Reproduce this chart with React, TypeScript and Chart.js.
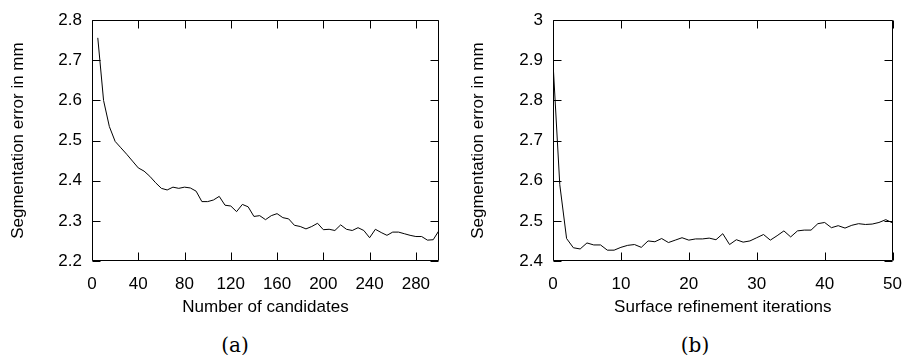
import React, { useEffect, useRef } from "react";
import { Chart, registerables } from "chart.js";

Chart.register(...registerables);

// ---------- data: panel (a) ----------
const candidates = [
  5, 10, 15, 20, 25, 30, 35, 40, 45, 50, 55, 60, 65, 70, 75, 80, 85, 90, 95, 100,
  105, 110, 115, 120, 125, 130, 135, 140, 145, 150, 155, 160, 165, 170, 175, 180, 185, 190, 195, 200,
  205, 210, 215, 220, 225, 230, 235, 240, 245, 250, 255, 260, 265, 270, 275, 280, 285, 290, 295, 300,
];
const candidateError = [
  2.756, 2.6, 2.535, 2.498, 2.482, 2.466, 2.449, 2.432, 2.424, 2.411,
  2.395, 2.381, 2.377, 2.384, 2.381, 2.384, 2.382, 2.374, 2.348, 2.348,
  2.352, 2.361, 2.339, 2.337, 2.323, 2.341, 2.335, 2.311, 2.313, 2.303,
  2.313, 2.318, 2.308, 2.305, 2.289, 2.286, 2.28, 2.286, 2.294, 2.278,
  2.279, 2.276, 2.29, 2.279, 2.276, 2.283, 2.276, 2.258, 2.279, 2.271,
  2.264, 2.272, 2.272, 2.268, 2.264, 2.261, 2.261, 2.252, 2.253, 2.276,
];
const candidateTicksX = [0, 40, 80, 120, 160, 200, 240, 280];
const candidateTicksY = [2.2, 2.3, 2.4, 2.5, 2.6, 2.7, 2.8];

// ---------- data: panel (b) ----------
const iterations = [
  0, 1, 2, 3, 4, 5, 6, 7, 8, 9, 10, 11, 12, 13, 14, 15, 16, 17, 18, 19, 20,
  21, 22, 23, 24, 25, 26, 27, 28, 29, 30, 31, 32, 33, 34, 35, 36, 37, 38, 39, 40,
  41, 42, 43, 44, 45, 46, 47, 48, 49, 50,
];
const iterationError = [
  2.895, 2.59, 2.456, 2.433, 2.43, 2.445, 2.44, 2.44, 2.427, 2.427, 2.434,
  2.439, 2.441, 2.434, 2.45, 2.448, 2.456, 2.446, 2.452, 2.458, 2.452,
  2.455, 2.455, 2.457, 2.453, 2.468, 2.441, 2.453, 2.447, 2.45, 2.458,
  2.466, 2.452, 2.463, 2.475, 2.46, 2.475, 2.477, 2.477, 2.493, 2.496,
  2.483, 2.488, 2.482, 2.489, 2.493, 2.491, 2.492, 2.496, 2.503, 2.495,
];
const iterationTicksX = [0, 10, 20, 30, 40, 50];
const iterationTicksY = [2.4, 2.5, 2.6, 2.7, 2.8, 2.9, 3];

const FONT = { family: "'Liberation Sans', Arial, Helvetica, sans-serif", size: 17 };
const fmt = (v: number) => String(+Number(v).toFixed(3));

const framePlugin = {
  id: "gnuFrame",
  afterDatasetsDraw(chart: any) {
    const { ctx, chartArea: a, scales } = chart;
    const L = Math.round(a.left) + 0.5;
    const R = Math.round(a.right) - 0.5;
    const T = Math.round(a.top) + 0.5;
    const B = Math.round(a.bottom) - 0.5;
    const len = 8;
    ctx.save();
    ctx.strokeStyle = "#000";
    ctx.lineWidth = 1;
    ctx.beginPath();
    ctx.rect(L, T, R - L, B - T);
    for (const t of scales.x.ticks) {
      const px = Math.round(scales.x.getPixelForValue(t.value)) + 0.5;
      ctx.moveTo(px, B);
      ctx.lineTo(px, B - len);
      ctx.moveTo(px, T);
      ctx.lineTo(px, T + len);
    }
    for (const t of scales.y.ticks) {
      const py = Math.round(scales.y.getPixelForValue(t.value)) + 0.5;
      ctx.moveTo(L, py);
      ctx.lineTo(L + len, py);
      ctx.moveTo(R, py);
      ctx.lineTo(R - len, py);
    }
    ctx.stroke();
    ctx.restore();
  },
};

type PanelProps = {
  xs: number[];
  ys: number[];
  xMin: number;
  xMax: number;
  yMin: number;
  yMax: number;
  xTicks: number[];
  yTicks: number[];
  xTitle: string;
  yTitle: string;
  width: number;
  height: number;
  yAxisWidth: number;
  padRight: number;
};

function Panel(p: PanelProps) {
  const ref = useRef<HTMLCanvasElement | null>(null);
  useEffect(() => {
    if (!ref.current) return;
    const chart = new Chart(ref.current, {
      type: "line",
      data: {
        datasets: [
          {
            data: p.xs.map((x, i) => ({ x, y: p.ys[i] })),
            borderColor: "#000",
            borderWidth: 1,
            pointRadius: 0,
            tension: 0,
            fill: false,
          },
        ],
      },
      options: {
        animation: false,
        responsive: false,
        maintainAspectRatio: false,
        layout: { padding: { top: 17, right: p.padRight, left: 0, bottom: 0 } },
        plugins: { legend: { display: false }, tooltip: { enabled: false } },
        scales: {
          x: {
            type: "linear",
            min: p.xMin,
            max: p.xMax,
            afterBuildTicks: (s: any) => {
              s.ticks = p.xTicks.map((v) => ({ value: v }));
            },
            afterFit: (s: any) => {
              s.height = p.height - 261;
            },
            grid: { display: false, drawTicks: false },
            border: { display: false },
            ticks: {
              color: "#000",
              font: FONT,
              padding: 13,
              maxRotation: 0,
              autoSkip: false,
              callback: (v: any) => fmt(v),
            },
            title: {
              display: true,
              text: p.xTitle,
              color: "#000",
              font: FONT,
              padding: { top: 0, bottom: 7 },
            },
          },
          y: {
            type: "linear",
            min: p.yMin,
            max: p.yMax,
            afterBuildTicks: (s: any) => {
              s.ticks = p.yTicks.map((v) => ({ value: v }));
            },
            afterFit: (s: any) => {
              s.width = p.yAxisWidth;
            },
            grid: { display: false, drawTicks: false },
            border: { display: false },
            ticks: {
              color: "#000",
              font: FONT,
              padding: 10,
              autoSkip: false,
              callback: (v: any) => fmt(v),
            },
            title: {
              display: true,
              text: p.yTitle,
              color: "#000",
              font: FONT,
              padding: { top: 8, bottom: 0 },
            },
          },
        },
      },
      plugins: [framePlugin],
    } as any);
    return () => chart.destroy();
  }, []);
  return <canvas ref={ref} width={p.width} height={p.height} style={{ width: p.width, height: p.height, display: "block" }} />;
}

const captionStyle: React.CSSProperties = {
  position: "absolute",
  top: 333,
  width: 60,
  textAlign: "center",
  fontFamily: "'DejaVu Serif', 'Liberation Serif', serif",
  fontSize: 20,
  lineHeight: "24px",
  color: "#000",
};

export default function App() {
  return (
    <div style={{ position: "absolute", left: 0, top: 0, width: 915, height: 355, background: "#fff", overflow: "hidden" }}>
      <div style={{ position: "absolute", left: 0, top: 0 }}>
        <Panel
          xs={candidates}
          ys={candidateError}
          xMin={0}
          xMax={300}
          yMin={2.2}
          yMax={2.8}
          xTicks={candidateTicksX}
          yTicks={candidateTicksY}
          xTitle="Number of candidates"
          yTitle="Segmentation error in mm"
          width={460}
          height={325}
          yAxisWidth={92}
          padRight={21}
        />
      </div>
      <div style={{ position: "absolute", left: 460, top: 0 }}>
        <Panel
          xs={iterations}
          ys={iterationError}
          xMin={0}
          xMax={50}
          yMin={2.4}
          yMax={3}
          xTicks={iterationTicksX}
          yTicks={iterationTicksY}
          xTitle="Surface refinement iterations"
          yTitle="Segmentation error in mm"
          width={455}
          height={325}
          yAxisWidth={93}
          padRight={15}
        />
      </div>
      <div style={{ ...captionStyle, left: 235 - 30 }}>(a)</div>
      <div style={{ ...captionStyle, left: 695 - 30 }}>(b)</div>
    </div>
  );
}
